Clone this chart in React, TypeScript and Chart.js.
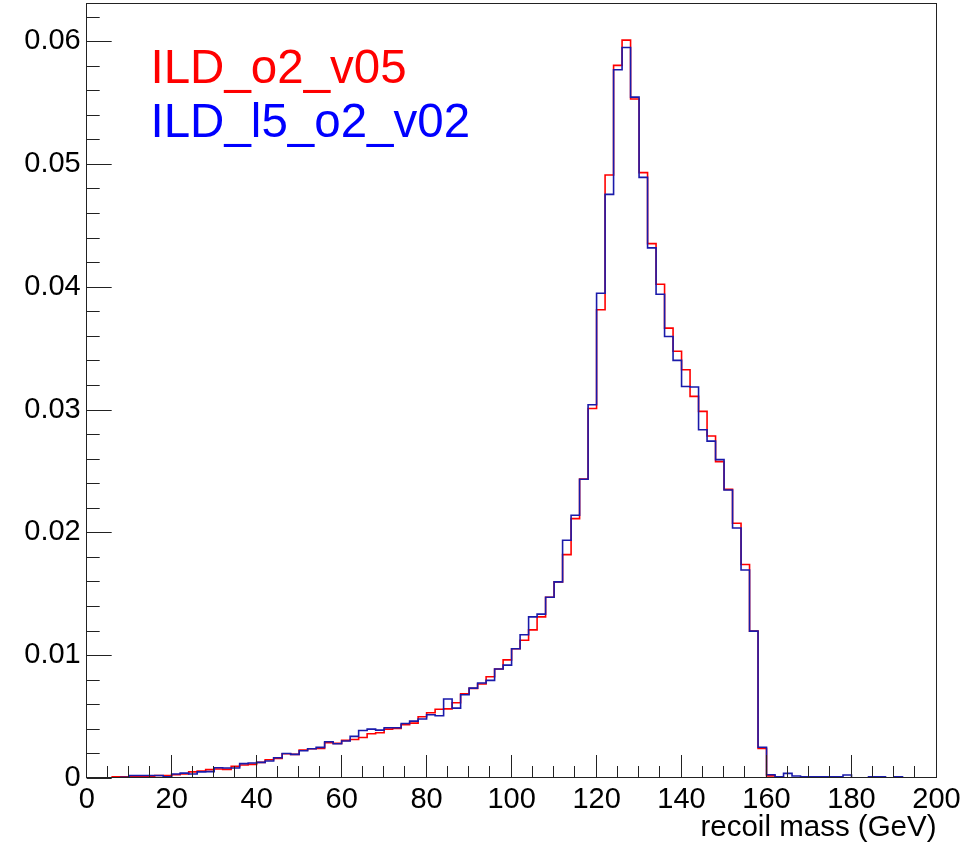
import React, { useEffect, useRef } from "react";
import { Chart, registerables } from "chart.js";

Chart.register(...registerables);

// Histogram: 100 bins of 2 GeV from 0 to 200 GeV
const BIN_WIDTH = 2;
const X_MIN = 0;
const X_MAX = 200;
const Y_MAX = 0.0631;

const X_TICKS = [0, 20, 40, 60, 80, 100, 120, 140, 160, 180, 200];
const Y_TICKS = [0, 0.01, 0.02, 0.03, 0.04, 0.05, 0.06];

const LEGEND_LABELS = ["ILD_o2_v05", "ILD_l5_o2_v02"];
const X_TITLE = "recoil mass (GeV)";

// ILD_o2_v05 (red)
const redValues = [
  0, 0, 0, 0.0001, 0.0001, 0.0001, 0.0001, 0.0001, 0.0002, 0.0002,
  0.00027, 0.00033, 0.0005, 0.00056, 0.00068, 0.00073, 0.0007, 0.00095, 0.00106, 0.00111,
  0.00127, 0.00149, 0.0016, 0.00198, 0.00192, 0.00228, 0.00238, 0.0024, 0.00287, 0.00282,
  0.00306, 0.00314, 0.0033, 0.0036, 0.00368, 0.00398, 0.00404, 0.00433, 0.00447, 0.00499,
  0.00531, 0.0056, 0.00563, 0.00613, 0.00686, 0.0073, 0.00765, 0.00824, 0.00887, 0.00962,
  0.01052, 0.01122, 0.01206, 0.01312, 0.01472, 0.01597, 0.01819, 0.02112, 0.02435, 0.03009,
  0.03812, 0.0491, 0.05802, 0.06008, 0.05528, 0.04929, 0.04351, 0.0402, 0.03663, 0.03475,
  0.03324, 0.03107, 0.02985, 0.02784, 0.02576, 0.0235, 0.02074, 0.01738, 0.01196, 0.0024,
  0.00017, 0.00005, 0, 0, 0, 0, 0, 0, 0, 0,
  0, 0, 0, 0, 0, 0, 0, 0, 0, 0,
];

// ILD_l5_o2_v02 (blue)
const blueValues = [
  0, 0, 0, 0, 0.00005, 0.0002, 0.0002, 0.0002, 0.0002, 0.0001,
  0.00033, 0.0004, 0.00033, 0.0005, 0.00052, 0.00084, 0.00082, 0.00082, 0.00117, 0.00122,
  0.00127, 0.00138, 0.00165, 0.002, 0.00192, 0.00222, 0.00238, 0.00249, 0.00295, 0.00279,
  0.00301, 0.00339, 0.00387, 0.00398, 0.0039, 0.00409, 0.00409, 0.00444, 0.00463, 0.0048,
  0.00515, 0.00507, 0.00643, 0.00569, 0.00678, 0.00732, 0.00773, 0.00795, 0.00887, 0.00919,
  0.01052, 0.01166, 0.01312, 0.01334, 0.01472, 0.01597, 0.01936, 0.02139, 0.02432, 0.03039,
  0.03947, 0.04752, 0.05767, 0.05948, 0.05544, 0.0489, 0.04316, 0.03939, 0.03595, 0.034,
  0.03188, 0.03183, 0.02836, 0.02743, 0.02592, 0.02345, 0.02035, 0.01694, 0.01196, 0.0025,
  0.00027, 0.0001, 0.00038, 0.00016, 0.0001, 0.0001, 0.0001, 0.0001, 0.0001, 0.00025,
  0, 0, 0.0001, 0.0001, 0, 0.0001, 0, 0, 0, 0,
];

const RED = "#ff0000";
const BLUE = "#1a1aaa";
const LEGEND_COLORS = ["#ff0000", "#0000ff"];
const FONT = '"Liberation Sans", Arial, Helvetica, sans-serif';

// points at bin left edges; stepped 'before' draws horizontal at previous value, then vertical
function toSteps(values: number[]) {
  const pts = values.map((v, i) => ({ x: X_MIN + i * BIN_WIDTH, y: v }));
  pts.push({ x: X_MIN + values.length * BIN_WIDTH, y: values[values.length - 1] });
  return pts;
}

const rootDecor = {
  id: "rootDecor",
  afterDraw(chart: any) {
    const { ctx, chartArea } = chart;
    const xs = chart.scales.x;
    const ys = chart.scales.y;
    const { left, right, top, bottom } = chartArea;
    ctx.save();
    ctx.strokeStyle = "#222";
    ctx.lineWidth = 1;
    // frame
    ctx.strokeRect(Math.round(left) - 0.5, Math.round(top) + 0.5, Math.round(right) - Math.round(left), Math.round(bottom) - Math.round(top) - 1);
    ctx.beginPath();
    // y ticks (inside, left)
    for (let v = 0; v <= Y_MAX + 1e-9; v += 0.002) {
      const y = Math.round(ys.getPixelForValue(v)) + 0.5;
      const major = Math.abs(v / 0.01 - Math.round(v / 0.01)) < 1e-6;
      const len = major ? 25 : 13;
      ctx.moveTo(left, y);
      ctx.lineTo(left + len, y);
    }
    // x ticks (inside, bottom)
    for (let v = X_MIN; v <= X_MAX + 1e-9; v += 5) {
      const x = Math.round(xs.getPixelForValue(v)) - 0.5;
      const major = v % 20 === 0;
      const len = major ? 23 : 12;
      ctx.moveTo(x, bottom);
      ctx.lineTo(x, bottom - len);
    }
    ctx.stroke();
    // legend texts
    ctx.font = "47.5px " + FONT;
    ctx.textAlign = "left";
    ctx.textBaseline = "alphabetic";
    ctx.fillStyle = LEGEND_COLORS[0];
    ctx.fillText(LEGEND_LABELS[0], 150.5, 82.5);
    ctx.fillStyle = LEGEND_COLORS[1];
    ctx.fillText(LEGEND_LABELS[1], 150.5, 136.5);
    ctx.restore();
  },
};

export default function App() {
  const ref = useRef<HTMLCanvasElement | null>(null);
  useEffect(() => {
    if (!ref.current) return;
    const chart = new Chart(ref.current, {
      type: "line",
      data: {
        datasets: [
          {
            label: LEGEND_LABELS[0],
            data: toSteps(redValues),
            borderColor: RED,
            borderWidth: 1.6,
            stepped: "before",
            pointRadius: 0,
            fill: false,
            order: 2,
          },
          {
            label: LEGEND_LABELS[1],
            data: toSteps(blueValues),
            borderColor: BLUE,
            borderWidth: 1.6,
            stepped: "before",
            pointRadius: 0,
            fill: false,
            order: 1,
          },
        ],
      },
      options: {
        responsive: false,
        animation: false,
        devicePixelRatio: 1,
        layout: { padding: { top: 3, right: 43.5, left: 0, bottom: 0 } },
        plugins: { legend: { display: false }, tooltip: { enabled: false }, title: { display: false } },
        scales: {
          x: {
            type: "linear",
            min: X_MIN,
            max: X_MAX,
            grid: { display: false, drawTicks: false },
            border: { display: false },
            afterBuildTicks: (s: any) => {
              s.ticks = X_TICKS.map((v) => ({ value: v }));
            },
            afterFit: (s: any) => {
              s.height = 72;
              s.paddingLeft = 0;
              s.paddingRight = 0;
              s.paddingTop = 0;
              s.paddingBottom = 0;
            },
            ticks: {
              padding: 5,
              color: "#000",
              font: { family: FONT, size: 29 },
              maxRotation: 0,
              autoSkip: false,
              callback: (v: any) => String(v),
            },
            title: {
              display: true,
              text: X_TITLE,
              align: "end",
              color: "#000",
              font: { family: FONT, size: 29.5 },
              padding: { top: 0, bottom: 4 },
            },
          },
          y: {
            type: "linear",
            min: 0,
            max: Y_MAX,
            grid: { display: false, drawTicks: false },
            border: { display: false },
            afterBuildTicks: (s: any) => {
              s.ticks = Y_TICKS.map((v) => ({ value: v }));
            },
            afterFit: (s: any) => {
              s.width = 86.7;
              s.paddingLeft = 0;
              s.paddingRight = 0;
              s.paddingTop = 0;
              s.paddingBottom = 0;
            },
            ticks: {
              padding: 6,
              color: "#000",
              font: { family: FONT, size: 29 },
              autoSkip: false,
              callback: (v: any) => (Number(v) === 0 ? "0" : Number(v).toFixed(2)),
            },
          },
        },
      },
      plugins: [rootDecor],
    });
    return () => chart.destroy();
  }, []);
  return (
    <div style={{ position: "absolute", left: 0, top: 0, width: 980, height: 850, background: "#fff" }}>
      <canvas ref={ref} width={980} height={850} />
    </div>
  );
}
